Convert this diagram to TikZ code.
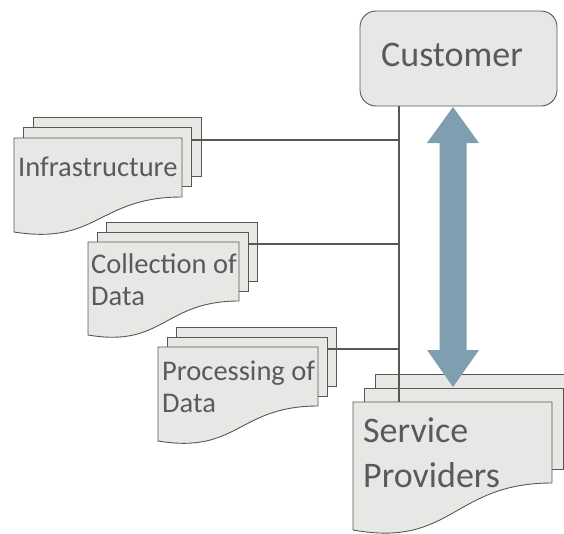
\documentclass[tikz,border=0pt]{standalone}
\usepackage{fontspec}
\setmainfont{Carlito}
\usetikzlibrary{calc}
\definecolor{pagefill}{HTML}{E7E8E6}
\definecolor{pageline}{HTML}{5B5750}
\definecolor{txtgray}{HTML}{5A5A5A}
\definecolor{arrowblue}{HTML}{7F9FB1}
\tikzset{
  page/.style={draw=pageline, fill=pagefill, line width=0.9pt, line join=miter},
  conn/.style={draw=pageline, line width=1.1pt},
  custbox/.style={draw=pageline, fill=pagefill, line width=0.9pt, rounded corners=16pt},
  smalltxt/.style={text=txtgray, font=\fontsize{28.5}{32}\selectfont, inner sep=0pt, align=left},
  bigtxt/.style={text=txtgray, font=\fontsize{36}{45}\selectfont, inner sep=0pt, align=left},
}
% x0,x1,top,yr,yl,dx,dy,name
\newcommand\multidoc[8]{%
  \draw[page] ({#1+2*#6},{#3-2*#7}) rectangle ({#2+2*#6},{#4-2*#7});
  \draw[page] ({#1+#6},{#3-#7}) rectangle ({#2+#6},{#4-#7});
  \draw[page] (#1,#3) -- (#2,#3) -- (#2,#4) .. controls ({(#1+#2)/2},#4) and ({(#1+#2)/2},{#5+0.38*(#5-#4)}) .. (#1,#5) -- cycle;
  \coordinate (#8-e) at ({#2+#6},{#3+2});
}
\begin{document}
\begin{tikzpicture}[x=1pt,y=-1pt]
\useasboundingbox (0,0) rectangle (564,533);

% Customer
\node[custbox, minimum width=197pt, minimum height=95pt, inner sep=0pt] (cust) at (458.5,58.5) {};
\node[bigtxt, anchor=base west] (custlbl) at (381,66) {Customer};

% Service providers
\multidoc{353}{552}{402}{483}{530}{11}{14}{sp}

% documents on the left
\multidoc{14}{182}{138}{197}{232}{9.5}{10.5}{infra}
\multidoc{88}{239}{242}{301}{335}{9}{10}{coll}
\multidoc{158}{318}{347}{406}{441}{9}{10}{proc}

% bus line
\coordinate (bustop) at (399,106);
\coordinate (busbot) at (399,402);
\draw[conn] (bustop) -- (busbot);
\draw[conn] (infra-e) -- (infra-e -| bustop);
\draw[conn] (coll-e) -- (coll-e -| bustop);
\draw[conn] (proc-e) -- (proc-e -| bustop);

% double arrow
\coordinate (atop) at (453,107);
\coordinate (abot) at (453,387);
\fill[arrowblue] (atop) -- ($(atop)+(26,36)$) -- ($(atop)+(13.5,36)$) -- ($(abot)+(13.5,-37)$) -- ($(abot)+(26,-37)$) -- (abot)
  -- ($(abot)+(-26,-37)$) -- ($(abot)+(-13.5,-37)$) -- ($(atop)+(-13.5,36)$) -- ($(atop)+(-26,36)$) -- cycle;

% labels
\node[smalltxt, anchor=base west] (infralbl) at (18,176) {Infrastructure};
\node[smalltxt, anchor=base west] (colllbl1) at (91,273) {Collection of};
\node[smalltxt, anchor=base west] (colllbl2) at (91,305) {Data};
\node[smalltxt, anchor=base west] (proclbl1) at (162,380) {Processing of};
\node[smalltxt, anchor=base west] (proclbl2) at (162,412) {Data};
\node[bigtxt, anchor=base west] (splbl1) at (363,442) {Service};
\node[bigtxt, anchor=base west] (splbl2) at (363,487) {Providers};
\end{tikzpicture}
\end{document}
